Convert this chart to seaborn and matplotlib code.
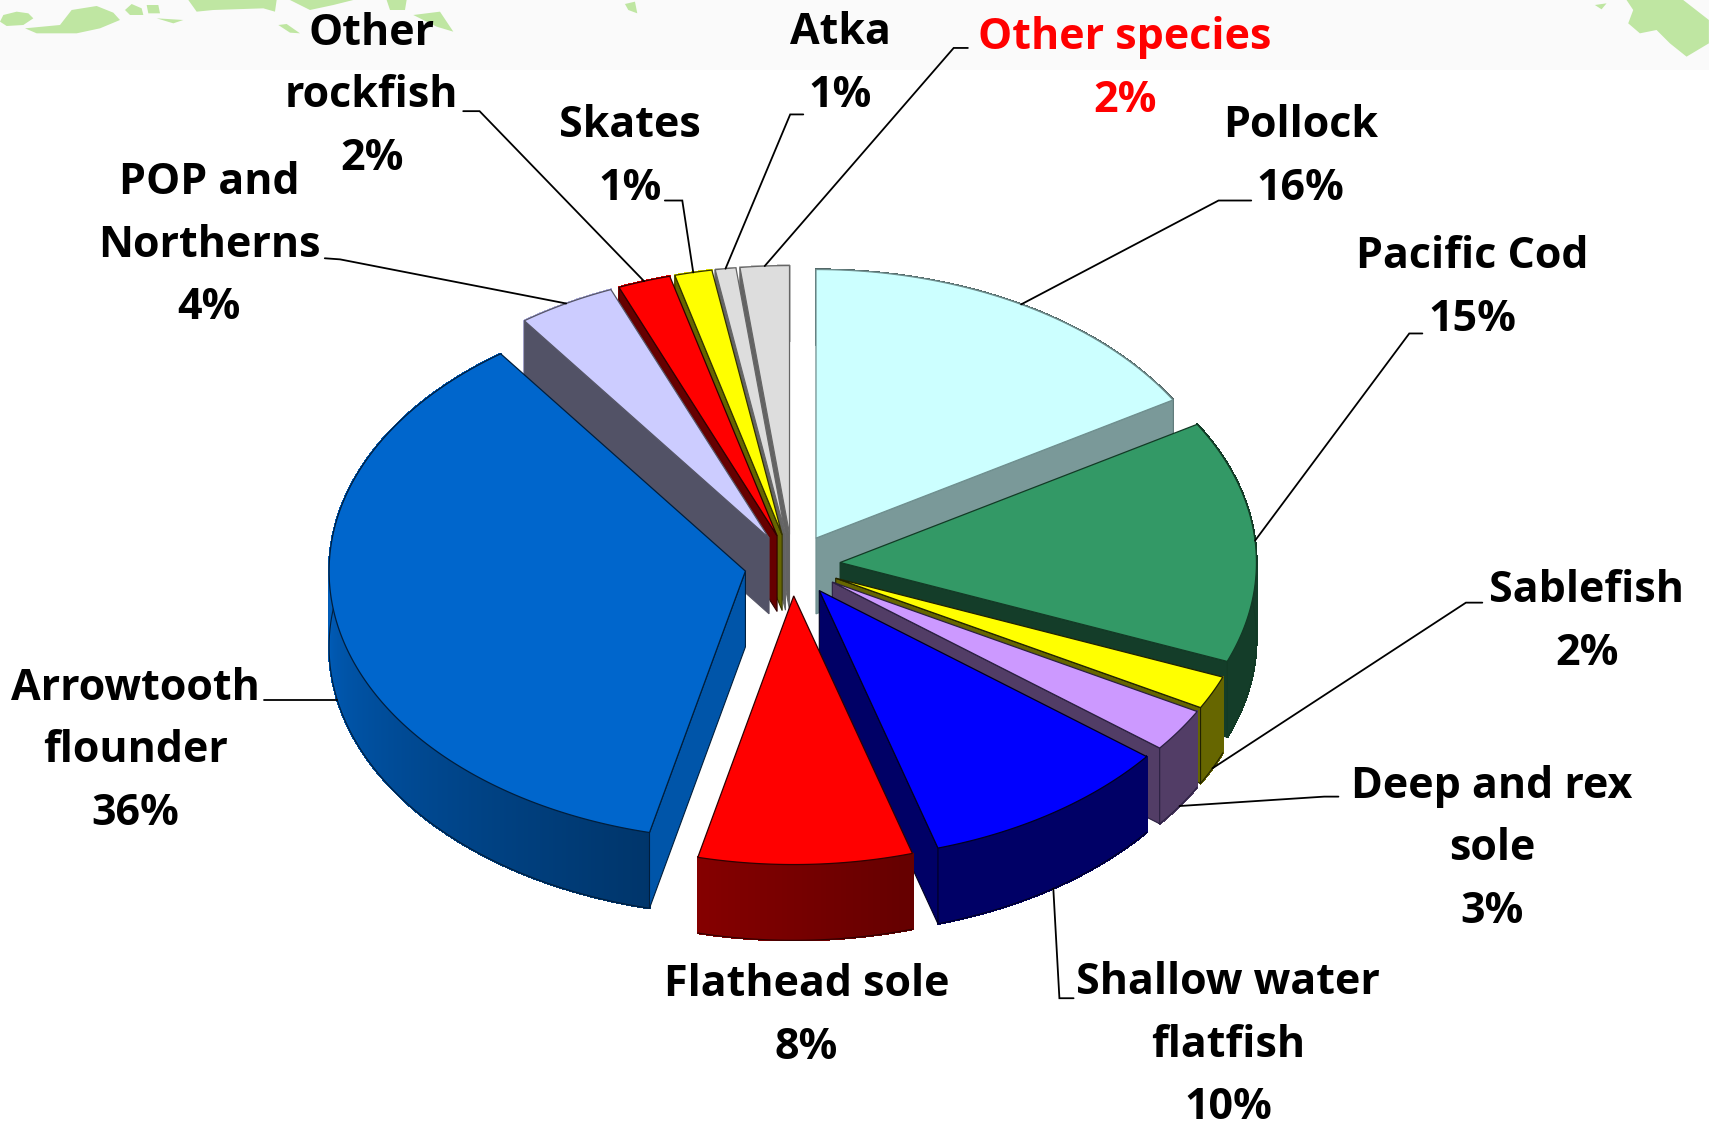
import numpy as np
import matplotlib
matplotlib.use("Agg")
import matplotlib.pyplot as plt
from matplotlib.collections import PolyCollection
import seaborn as sns

# ---- data (clockwise from 12 o'clock) ----
species = ["Pollock", "Pacific Cod", "Sablefish", "Deep and rex sole", "Shallow water flatfish",
           "Flathead sole", "Arrowtooth flounder", "POP and Northerns", "Other rockfish",
           "Skates", "Atka", "Other species"]
values = [16.4, 14.6, 2.0, 2.6, 9.8, 8.3, 36.3, 3.8, 2.05, 1.45, 0.8, 1.9]
labels = ["Pollock\n16%", "Pacific Cod\n15%", "Sablefish\n2%", "Deep and rex\nsole\n3%",
          "Shallow water\nflatfish\n10%", "Flathead sole\n8%", "Arrowtooth\nflounder\n36%",
          "POP and\nNortherns\n4%", "Other\nrockfish\n2%", "Skates\n1%", "Atka\n1%",
          "Other species\n2%"]
colors = ["#CCFFFF", "#339966", "#FFFF00", "#CC99FF", "#0000FF", "#FF0000", "#0066CC",
          "#CCCCFF", "#FF0000", "#FFFF00", "#DDDDDD", "#DDDDDD"]
side_shade = [0.60, 0.40, 0.40, 0.40, 0.40, 0.40, 0.83, 0.40, 0.40, 0.40, 0.45, 0.45]
edge_colors = ["#6F8F8F", "#123A25", "#222200", "#2A2040", "#000020", "#300000", "#001E3C",
               "#555566", "#300000", "#333300", "#666666", "#666666"]
draw_order = [11, 10, 9, 8, 7, 0, 6, 1, 2, 3, 4, 5]

# layout of text and leaders, in the reference's shrunken pixel frame
label_pos = [(1193, 144), (1351, 264), (1456, 571), (1369, 779), (1127, 959), (740, 932),
             (124, 689), (192, 225), (341, 88), (578, 144), (771, 59), (1032, 63)]
label_col = ["black"] * 11 + ["#FF0000"]
leaders = [[(1148, 184), (1118, 184)], [(1305, 306), (1293, 306)], [(1360, 553), (1345, 553)],
           [(1228, 731), (1215, 731)], [(985, 916), (972, 916)], None, [(242, 642)],
           [(298, 237), (312, 238)], [(425, 102), (440, 102)], [(610, 184), (626, 184)],
           [(737, 105), (725, 105)], [(888, 44), (875, 44)]]

# pie geometry
CX, CY, RX, RY, DEPTH, EXPLODE = 727.0, 518.5, 382.0, 246.5, 69.5, 0.115

sns.set_theme(style="white")
plt.rcParams["font.family"] = ["Open Sans", "DejaVu Sans"]
palette = sns.color_palette(colors)

fig, ax = plt.subplots(figsize=(17.09, 11.29), dpi=100)
fig.subplots_adjust(0, 0, 1, 1)
ax.set_xlim(0, 1568)
ax.set_ylim(1036, 0)
ax.axis("off")

# decorative banner behind the title area
ax.fill_between([0, 1568], 0, 64, color="#FAFAFA", lw=0, zorder=0)
green = "#BFE6A2"
blobs_left = [
    [(0, 65), (10, 45), (50, 35), (85, 40), (100, 55), (70, 75), (20, 78)],
    [(75, 85), (180, 75), (215, 30), (290, 18), (340, 38), (360, 60), (300, 85), (230, 100), (110, 100)],
    [(375, 30), (395, 12), (425, 25), (430, 45), (390, 45)],
    [(440, 15), (475, 15), (480, 40), (445, 40)],
    [(470, 55), (550, 60), (520, 70)],
    [(565, 0), (830, 0), (825, 35), (790, 25), (640, 30), (590, 35)],
    [(835, 75), (860, 72), (900, 100), (870, 98)],
    [(870, 0), (1060, 0), (1000, 15), (930, 30)],
    [(1160, 0), (1220, 0), (1215, 30), (1170, 30)],
    [(1240, 45), (1320, 35), (1360, 95), (1310, 80)],
    [(1875, 12), (1905, 5), (1912, 40), (1885, 30)],
]
blobs_right = [
    [(200, 0), (370, 0), (447, 60), (447, 130), (380, 170), (330, 130), (290, 90), (240, 100), (205, 70), (220, 30)],
    [(105, 15), (140, 10), (125, 28)],
]
for b in blobs_left:
    bx, by = zip(*b)
    ax.fill(np.array(bx) / 3.27, np.array(by) / 3.27, color=green, lw=0, zorder=0.5)
for b in blobs_right:
    bx, by = zip(*b)
    ax.fill((1560 + np.array(bx) / 3) / 1.09, np.array(by) / 3.27, color=green, lw=0, zorder=0.5)


def rim(apex, deg, drop=0.0):
    t = np.radians(deg)
    return apex[0] + RX * np.sin(t), apex[1] - RY * np.cos(t) + drop


def wall_shade(deg):
    return np.interp(deg, [165, 193, 270], [0.40, 0.52, 0.90])


def scaled(c, s):
    return tuple(min(1.0, v * s) for v in c)


cum = np.cumsum([0.0] + values) / sum(values) * 360.0
apexes = []
for i in range(len(values)):
    mid = np.radians((cum[i] + cum[i + 1]) / 2)
    apexes.append((CX + EXPLODE * RX * np.sin(mid), CY - EXPLODE * RY * np.cos(mid)))

z = 2
for i in draw_order:
    a0, a1 = cum[i], cum[i + 1]
    apex = apexes[i]
    col = palette[i]
    ec = edge_colors[i]
    side = scaled(col, side_shade[i])
    th = np.linspace(a0, a1, max(4, int((a1 - a0) * 3)))
    ax_, ay_ = rim(apex, th)

    # outer wall, shaded along the arc
    quads, fcs = [], []
    for k in range(len(th) - 1):
        quads.append([(ax_[k], ay_[k]), (ax_[k + 1], ay_[k + 1]),
                      (ax_[k + 1], ay_[k + 1] + DEPTH), (ax_[k], ay_[k] + DEPTH)])
        fcs.append(scaled(col, wall_shade((th[k] + th[k + 1]) / 2)))
    ax.add_collection(PolyCollection(quads, facecolors=fcs, edgecolors=fcs, linewidths=1.0,
                                     antialiaseds=False, zorder=z))
    ax.plot(ax_, ay_ + DEPTH, color=ec, lw=0.8, zorder=z)
    z += 1

    # radial walls: only those facing the viewer
    for a, visible in ((a0, np.sin(np.radians(a0)) < 0), (a1, np.sin(np.radians(a1)) > 0)):
        if not visible:
            continue
        px, py = rim(apex, a)
        ax.fill([apex[0], px, px, apex[0]], [apex[1], py, py + DEPTH, apex[1] + DEPTH],
                facecolor=side, edgecolor=ec, lw=0.8, zorder=z)
    z += 1

    # top face
    ax.fill(np.r_[apex[0], ax_], np.r_[apex[1], ay_], facecolor=col, edgecolor=ec, lw=0.9,
            joinstyle="miter", zorder=z)
    z += 1

# leader lines end on the rim at each slice's bisector
for i, pts in enumerate(leaders):
    if pts is None:
        continue
    mid = (cum[i] + cum[i + 1]) / 2
    drop = DEPTH if np.cos(np.radians(mid)) < 0 else 0.0
    ex, ey = rim(apexes[i], mid, drop)
    if len(pts) == 1:
        ey = pts[0][1]
    xs = [p[0] for p in pts] + [ex]
    ys = [p[1] for p in pts] + [ey]
    ax.plot(xs, ys, color="black", lw=1.3, zorder=z + 1, solid_joinstyle="miter")

for lab, (x, y), c in zip(labels, label_pos, label_col):
    ax.text(x, y, lab, ha="center", va="center", color=c, fontsize=31, fontweight="bold",
            linespacing=1.60, zorder=z + 2)

fig.savefig("out.png", dpi=100, facecolor="white")
